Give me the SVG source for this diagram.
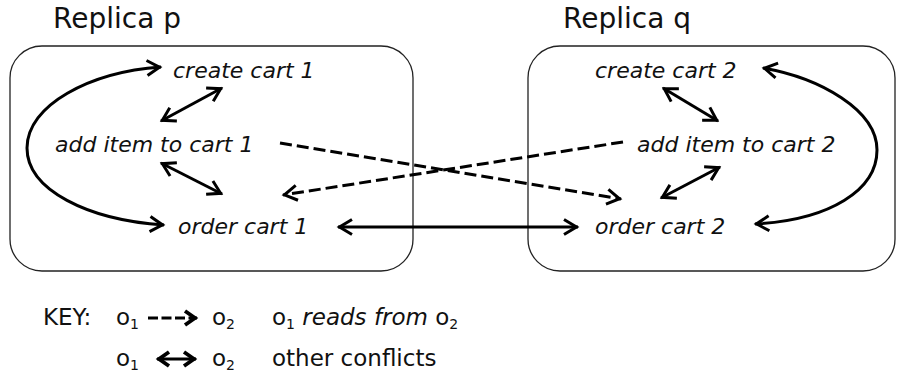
<svg xmlns="http://www.w3.org/2000/svg" width="898" height="386" viewBox="0 0 898 386">
<style>
.box{fill:none;stroke:#222;stroke-width:1.3}
.title{font-family:"DejaVu Sans",sans-serif;font-size:28px;fill:#111}
.op{font-family:"DejaVu Sans",sans-serif;font-size:22px;font-style:italic;fill:#111}
.key{font-family:"DejaVu Sans",sans-serif;font-size:23px;fill:#111}
.sub{font-size:14px}
.c{fill:none;stroke:#000;stroke-width:3}
.d{fill:none;stroke:#000;stroke-width:3;stroke-dasharray:12 5}
</style>
<defs>
<marker id="ah" viewBox="-16 -10 20 20" markerWidth="20" markerHeight="20" refX="0" refY="0" markerUnits="userSpaceOnUse" orient="auto-start-reverse" overflow="visible">
<path d="M-14,-7.5 L-1.5,0 L-14,7.5" fill="none" stroke="#000" stroke-width="3"/>
</marker>
<marker id="ak" viewBox="-16 -10 20 20" markerWidth="20" markerHeight="20" refX="0" refY="0" markerUnits="userSpaceOnUse" orient="auto-start-reverse" overflow="visible">
<path d="M-12,-7 L-2,0 L-12,7" fill="none" stroke="#000" stroke-width="3.8"/>
</marker>
</defs>
<rect width="898" height="386" fill="#fff"/>
<g id="replica-p">
<text class="title" x="53" y="28">Replica p</text>
<rect class="box" x="10" y="46" width="403" height="225" rx="32" ry="32"/>
</g>
<g id="replica-q">
<text class="title" x="563" y="28">Replica q</text>
<rect class="box" x="528" y="46" width="367" height="225" rx="32" ry="32"/>
</g>
<g id="create-cart-1"><text class="op" x="173" y="78">create cart 1</text></g>
<g id="add-item-1"><text class="op" x="55" y="152">add item to cart 1</text></g>
<g id="order-cart-1"><text class="op" x="178" y="234">order cart 1</text></g>
<g id="create-cart-2"><text class="op" x="595" y="78">create cart 2</text></g>
<g id="add-item-2"><text class="op" x="637" y="152">add item to cart 2</text></g>
<g id="order-cart-2"><text class="op" x="595" y="234">order cart 2</text></g>
<g id="connectors">
<path class="c" d="M161,67 C90,72 27,105 27,148 C27,190 88,220 164,225" marker-start="url(#ah)" marker-end="url(#ah)"/>
<path class="c" d="M763,68 C820,78 877,110 877,150 C877,190 830,220 755,224" marker-start="url(#ah)" marker-end="url(#ah)"/>
<line class="c" x1="161" y1="121" x2="222" y2="88" marker-start="url(#ah)" marker-end="url(#ah)"/>
<line class="c" x1="161" y1="163" x2="222" y2="194" marker-start="url(#ah)" marker-end="url(#ah)"/>
<line class="c" x1="663" y1="88" x2="718" y2="121" marker-start="url(#ah)" marker-end="url(#ah)"/>
<line class="c" x1="661" y1="198" x2="720" y2="167" marker-start="url(#ah)" marker-end="url(#ah)"/>
<line class="c" x1="338" y1="227" x2="578" y2="227" marker-start="url(#ah)" marker-end="url(#ah)"/>
<line class="d" x1="280" y1="143" x2="621" y2="199" marker-end="url(#ah)"/>
<line class="d" x1="623" y1="142" x2="283" y2="195" marker-end="url(#ah)"/>
</g>
<g id="key">
<text class="key" x="43" y="325">KEY:</text>
<text class="key" x="116" y="325">o<tspan class="sub" dy="4">1</tspan></text>
<line class="c" x1="148" y1="318" x2="197" y2="318" style="stroke-dasharray:10 3.5" marker-end="url(#ak)"/>
<text class="key" x="212" y="325">o<tspan class="sub" dy="4">2</tspan></text>
<text class="key" x="272" y="325">o<tspan class="sub" dy="4">1</tspan><tspan dy="-4" font-style="italic"> reads from </tspan>o<tspan class="sub" dy="4">2</tspan></text>
<text class="key" x="116" y="366">o<tspan class="sub" dy="4">1</tspan></text>
<line class="c" x1="157" y1="359" x2="196" y2="359" stroke-width="3.5" marker-start="url(#ak)" marker-end="url(#ak)"/>
<text class="key" x="212" y="366">o<tspan class="sub" dy="4">2</tspan></text>
<text class="key" x="272" y="366">other conflicts</text>
</g>
</svg>
